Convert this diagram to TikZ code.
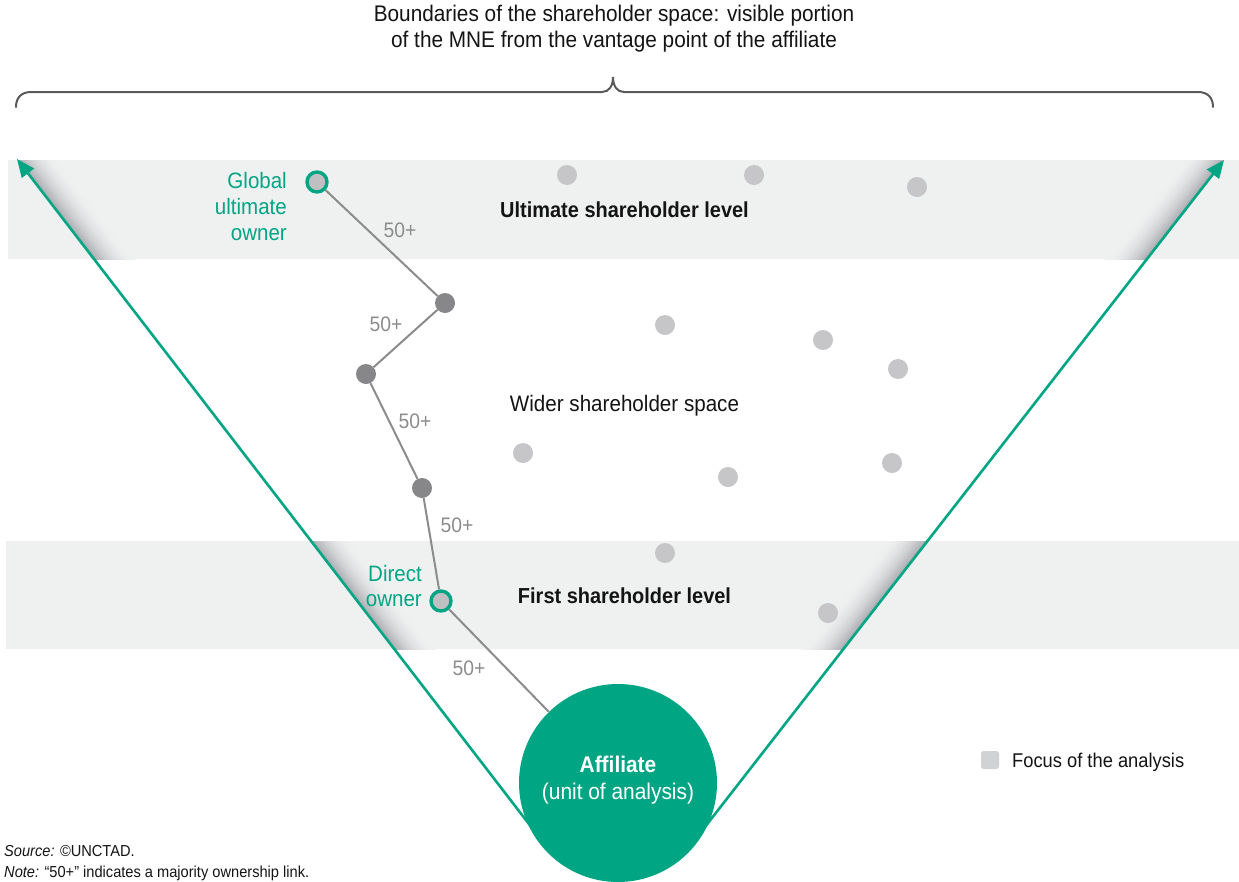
\documentclass[tikz,border=0pt]{standalone}
\usepackage{fontspec}
\setmainfont{Liberation Sans}[FakeStretch=0.92]
\usetikzlibrary{arrows.meta,calc}
\definecolor{unGreen}{RGB}{0,166,132}
\definecolor{bandGray}{RGB}{239,240,240}
\definecolor{shadeGray}{RGB}{178,179,183}
\definecolor{dotLight}{RGB}{198,198,200}
\definecolor{dotDark}{RGB}{135,135,138}
\definecolor{dotRing}{RGB}{192,192,194}
\definecolor{linkGray}{RGB}{140,140,140}
\definecolor{braceGray}{RGB}{90,90,90}
\definecolor{legendGray}{RGB}{209,210,212}
\definecolor{textDark}{RGB}{20,20,20}
\begin{document}
\begin{tikzpicture}[x=1pt,y=-1pt,
  txt/.style={inner sep=0pt, anchor=base, text=textDark},
  titlefont/.style={font=\fontsize{22.6pt}{26pt}\selectfont},
  levelfont/.style={font=\bfseries\fontsize{21.7pt}{26pt}\selectfont},
  widefont/.style={font=\fontsize{22.4pt}{26pt}\selectfont},
  greenlbl/.style={inner sep=0pt, anchor=base east, text=unGreen, font=\fontsize{22.3pt}{26pt}\selectfont},
  pct/.style={inner sep=0pt, anchor=base, text=linkGray, font=\fontsize{21pt}{26pt}\selectfont},
  lightdot/.style={circle, fill=dotLight, minimum size=20pt, inner sep=0pt},
  middot/.style={circle, fill=dotDark, minimum size=20pt, inner sep=0pt},
  ownerdot/.style={circle, fill=dotRing, draw=unGreen, line width=3.4pt, minimum size=20pt, inner sep=0pt},
  link/.style={draw=linkGray, line width=2pt},
  arrowline/.style={draw=unGreen, line width=2.6pt, -{Triangle[length=18pt,width=15pt]}},
  affil/.style={circle, fill=unGreen, minimum size=198pt, inner sep=0pt},
  afftext/.style={inner sep=0pt, anchor=base, text=white, font=\fontsize{22.7pt}{26pt}\selectfont},
  band/.style={fill=bandGray},
  note/.style={inner sep=0pt, anchor=base west, text=textDark, font=\fontsize{15.9pt}{20pt}\selectfont}
]
\useasboundingbox (0,0) rectangle (1239,881);
\fill[white] (0,0) rectangle (1239,881);

% bands
\fill[band] (8,160) rectangle (1239,259);
\fill[band] (6,541) rectangle (1239,649);

% key coordinates of the boundary arrows
\coordinate (tipL) at (17,159);
\coordinate (L0) at (549,850);
\coordinate (tipR) at (1224,160);
\coordinate (R0) at (687,850);

% shadows along the boundaries inside the bands
\foreach \ya/\yb/\xa in {160/259/8, 541/649/6} {
  \begin{scope}
    \clip (\xa,\ya) rectangle (1239,\yb);
    \foreach \k in {15,14,...,0} {
      \pgfmathtruncatemacro\p{100*(1-\k/15)*(1-\k/15)}
      \draw[line width=2.3pt, color=shadeGray!\p!bandGray]
        ($(tipL)+(1.584*\k+1.6,-1.22*\k-1.2)$) -- ($(L0)+(1.584*\k+1.6,-1.22*\k-1.2)$);
      \draw[line width=2.3pt, color=shadeGray!\p!bandGray]
        ($(tipR)+(-1.578*\k-1.6,-1.228*\k-1.2)$) -- ($(R0)+(-1.578*\k-1.6,-1.228*\k-1.2)$);
    }
  \end{scope}
}

% brace
\draw[braceGray, line width=2pt, line cap=round]
  (16,107) .. controls (16,98) and (21,92) .. (31,92) -- (602,92)
  .. controls (609,92) and (613,86) .. (613,77)
  .. controls (613,86) and (617,92) .. (624,92) -- (1198,92)
  .. controls (1208,92) and (1213,98) .. (1213,107);

% title
\node[txt, titlefont] (title1) at (614,21) {Boundaries of the shareholder space: visible portion};
\node[txt, titlefont] (title2) at (614,47) {of the MNE from the vantage point of the affiliate};

% other shareholders
\node[lightdot] (d1) at (567,175) {};
\node[lightdot] (d2) at (754,175) {};
\node[lightdot] (d3) at (917,187) {};
\node[lightdot] (d4) at (665,325) {};
\node[lightdot] (d5) at (823,340) {};
\node[lightdot] (d6) at (898,369) {};
\node[lightdot] (d7) at (523,453) {};
\node[lightdot] (d8) at (728,477) {};
\node[lightdot] (d9) at (892,463) {};
\node[lightdot] (d10) at (665,553) {};
\node[lightdot] (d11) at (828,613) {};

% level labels
\node[txt, levelfont] (lvlU) at (624.5,217) {Ultimate shareholder level};
\node[txt, widefont] (lvlW) at (624.5,411) {Wider shareholder space};
\node[txt, levelfont] (lvlF) at (624.5,603) {First shareholder level};

% boundary arrows
\draw[arrowline] (L0) -- (tipL);
\draw[arrowline] (R0) -- (tipR);

% affiliate
\node[affil] (aff) at (618,783) {};

% ownership chain
\node[ownerdot] (guo) at (317,182) {};
\node[middot] (m1) at (445,303) {};
\node[middot] (m2) at (366,374) {};
\node[middot] (m3) at (422,488) {};
\node[ownerdot] (do) at (441,601) {};
\draw[link] (guo) -- (m1);
\draw[link] (m1) -- (m2);
\draw[link] (m2) -- (m3);
\draw[link] (m3) -- (do);
\draw[link] (do) -- (aff);

\node[pct] (p1) at (400,237) {50+};
\node[pct] (p2) at (386,331) {50+};
\node[pct] (p3) at (415,428) {50+};
\node[pct] (p4) at (457,532) {50+};
\node[pct] (p5) at (469,675) {50+};

% owner labels
\node[greenlbl] (g1) at (287,188) {Global};
\node[greenlbl] (g2) at (287,214) {ultimate};
\node[greenlbl] (g3) at (287,240) {owner};
\node[greenlbl] (o1) at (422,581) {Direct};
\node[greenlbl] (o2) at (422,606) {owner};

% affiliate text
\node[afftext, font=\bfseries\fontsize{22.7pt}{26pt}\selectfont] (aff1) at (618,772) {Affiliate};
\node[afftext] (aff2) at (618,799) {(unit of analysis)};

% legend
\node[fill=legendGray, rounded corners=2.5pt, minimum size=18pt, inner sep=0pt] (legbox) at (990,760) {};
\node[inner sep=0pt, anchor=base west, text=textDark, font=\fontsize{19.9pt}{24pt}\selectfont] (legtext) at (1012,767) {Focus of the analysis};

% source and note
\node[note] (src) at (4,856) {\textit{Source:} ©UNCTAD.};
\node[note] (nte) at (4,877) {\textit{Note:} “50+” indicates a majority ownership link.};
\end{tikzpicture}
\end{document}
